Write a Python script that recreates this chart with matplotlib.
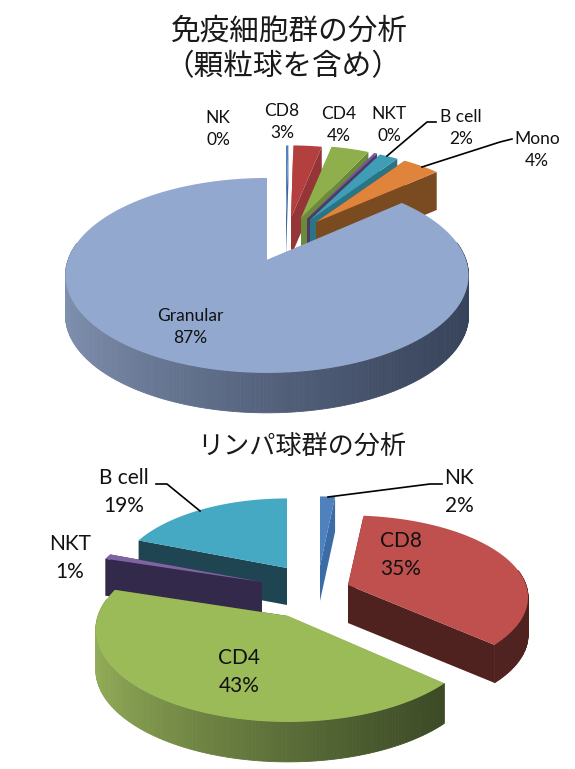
import numpy as np
import matplotlib
matplotlib.use('Agg')
import matplotlib.pyplot as plt
from matplotlib.colors import to_rgb
from matplotlib.patches import Polygon

plt.rcParams['font.family'] = ['Lato', 'Noto Sans CJK JP', 'DejaVu Sans']

# top pie, clockwise from 12 o'clock
top_names = ['NK', 'CD8', 'CD4', 'NKT', 'B cell', 'Mono', 'Granular']
top_labels = [0, 3, 4, 0, 2, 4, 87]
top_values = [0.25, 3, 4, 0.3, 2, 4, 87]

# bottom pie
low_names = ['NK', 'CD8', 'CD4', 'NKT', 'B cell']
low_labels = [2, 35, 43, 1, 19]
low_values = [1.6, 35, 43, 1, 19]

# styles
top_face = ['#4f81bd', '#b3403f', '#8fae4c', '#7a5c9e', '#3f9db5', '#e0843c', '#93a8cf']
top_side = ['#3d669a', '#953537', '#6c8a38', '#4c3a68', '#2a7488', '#7a4a20', ('#8091b0', '#37435a')]
low_face = ['#4f81bd', '#c0504d', '#9bbb59', '#8064a2', '#46a9c4']
low_side = ['#3b6ca6', '#4f211f', ('#93ad58', '#3c4a26'), '#33294a', '#1f4553']

# tip x, tip y, rx, ry, perspective of each slice (pixels)
top_geom = [(286, 218, 172, 82, .13), (291, 218, 172, 82, .13), (301, 218, 172, 82, .13),
            (307, 219, 172, 82, .13), (310, 220, 172, 82, .13), (316, 222, 175, 82, .13),
            (267, 260, 199, 95, .158)]
low_geom = [(320, 566, 172, 80, .15), (348, 585, 178, 80, .15), (288, 616, 190, 90, .15),
            (262, 582, 172, 80, .15), (287, 568, 168, 80, .15)]
top_depth = [38, 38, 38, 38, 38, 38, 40]
low_depth = [35, 38, 40, 37, 37]
# back to front
top_order = [0, 1, 2, 3, 4, 5, 6]
low_order = [0, 4, 1, 3, 2]


def project(geom, ang):
    tx, ty, rx, ry, k = geom
    u, v = np.sin(ang), np.cos(ang)
    w = 1 + k * v
    return tx + rx * u / w, ty - ry * v / w, v


def slice_3d(ax, values, geoms, faces, sides, depth, order):
    total = sum(values)
    stops = np.cumsum([0] + list(values)) / total * 2 * np.pi
    for n in order:
        geom, face, side, d = geoms[n], faces[n], sides[n], depth[n]
        start, end = stops[n], stops[n + 1]
        ang = np.linspace(start, end, max(int((end - start) * 60), 3))
        x, y, v = project(geom, ang)
        tip = (geom[0], geom[1])

        c0, c1 = (side, side) if isinstance(side, str) else side
        c0, c1 = np.array(to_rgb(c0)), np.array(to_rgb(c1))

        # cut walls first, the top face paints over the hidden parts
        for i in (0, -1):
            wall = [tip, (x[i], y[i]), (x[i], y[i] + d), (tip[0], tip[1] + d)]
            ax.add_patch(Polygon(wall, fc=c1 if i else c0, ec='none'))
        # outer rim
        for i in range(len(ang) - 1):
            if v[i] > 0.18 and v[i + 1] > 0.18:
                continue
            t = np.clip((x[i] - x.min()) / (np.ptp(x) + 1e-6), 0, 1) ** 0.75
            col = c0 + (c1 - c0) * t
            q = [(x[i], y[i]), (x[i + 1], y[i + 1]), (x[i + 1], y[i + 1] + d), (x[i], y[i] + d)]
            ax.add_patch(Polygon(q, fc=col, ec=col, lw=.6))

        pts = np.vstack([[tip], np.column_stack([x, y])])
        ax.add_patch(Polygon(pts, fc=face, ec='none'))


fig = plt.figure(figsize=(5.75, 7.69), dpi=100)
ax = fig.add_axes([0, 0, 1, 1])
ax.set_xlim(0, 575)
ax.set_ylim(769, 0)
ax.axis('off')

slice_3d(ax, top_values, top_geom, top_face, top_side, top_depth, top_order)
slice_3d(ax, low_values, low_geom, low_face, low_side, low_depth, low_order)

# leader lines
ax.plot([387, 427, 436], [156, 122, 122], color='black', lw=1.2)
ax.plot([422, 500, 512], [167, 142, 139], color='black', lw=1.2)
ax.plot([328, 430, 442], [497, 484, 484], color='black', lw=1.2)
ax.plot([200, 167, 156], [511, 484, 484], color='black', lw=1.2)

# data labels
top_pos = [(218, 129), (282, 122), (339, 125), (389, 125), (461, 128), (537, 150), (190, 327)]
low_pos = [(459, 492), (401, 555), (239, 672), (70, 558), (124, 492)]
for name, pct, (px, py) in zip(top_names, top_labels, top_pos):
    ax.text(px, py, f'{name}\n{pct}%', ha='center', va='center', fontsize=12.5,
            linespacing=1.45, color='#111111')
for name, pct, (px, py) in zip(low_names, low_labels, low_pos):
    ax.text(px, py, f'{name}\n{pct}%', ha='center', va='center', fontsize=15,
            linespacing=1.55, color='#111111')

# titles
ax.text(289, 31, '免疫細胞群の分析', ha='center', va='center', fontsize=21.3, color='#1a1a1a')
ax.text(283, 66, '（顆粒球を含め）', ha='center', va='center', fontsize=21.3, color='#1a1a1a')
ax.text(302, 446, 'リンパ球群の分析', ha='center', va='center', fontsize=18.8, color='#1a1a1a')

fig.savefig('out.png', dpi=100)
